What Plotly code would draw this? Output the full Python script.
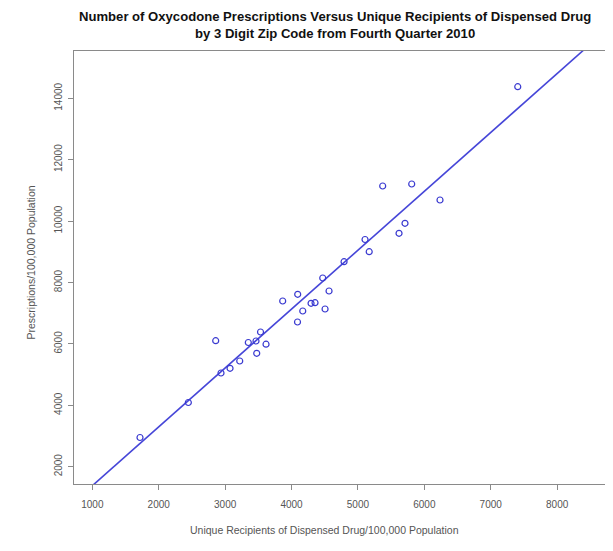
import plotly.graph_objects as go

# Unique recipients of dispensed drug per 100,000 population
recipients = [1718, 2446, 2858, 2938, 3074, 3220, 3349, 3465, 3533, 3476,
              3616, 3867, 4090, 4093, 4169, 4294, 4354, 4505, 4470, 4565,
              4791, 5107, 5170, 5373, 5810, 6236, 5709, 5619, 7407]
# Prescriptions per 100,000 population
prescriptions = [2951, 4091, 6104, 5052, 5205, 5443, 6046, 6094, 6388, 5694,
                 5990, 7397, 6713, 7616, 7072, 7322, 7342, 7137, 8147, 7723,
                 8678, 9401, 9003, 11143, 11208, 10687, 9928, 9603, 14378]

# fitted line
fit_intercept = -538
fit_slope = 1.918
line_x = [600, 9000]
line_y = [fit_intercept + fit_slope * v for v in line_x]

x_ticks = [1000, 2000, 3000, 4000, 5000, 6000, 7000, 8000]
y_ticks = [2000, 4000, 6000, 8000, 10000, 12000, 14000]

blue = "#3a3ad0"
fig = go.Figure()
fig.add_trace(go.Scatter(x=line_x, y=line_y, mode="lines",
                         line=dict(color="#4646d8", width=1.6), hoverinfo="skip"))
fig.add_trace(go.Scatter(x=recipients, y=prescriptions, mode="markers",
                         marker=dict(symbol="circle-open", size=6, color=blue,
                                     line=dict(width=1.2, color=blue))))

font_fam = "Liberation Sans, Arial"
axis_common = dict(showgrid=False, zeroline=False, showline=True, mirror=True,
                   linecolor="#8a8a8a", linewidth=1, ticks="outside", ticklen=5,
                   tickcolor="#8a8a8a", automargin=False,
                   tickfont=dict(family=font_fam, size=10, color="#555555"))

fig.update_layout(
    width=605, height=543,
    margin=dict(l=66, r=8, t=43, b=67),
    paper_bgcolor="white", plot_bgcolor="white",
    showlegend=False,
    annotations=[
        dict(text="<b>Number of Oxycodone Prescriptions Versus Unique Recipients of Dispensed Drug<br>by 3 Digit Zip Code from Fourth Quarter 2010</b>",
             xref="paper", yref="paper", x=0.4915, y=1, yshift=26,
             xanchor="center", yanchor="middle", showarrow=False,
             font=dict(family=font_fam, size=13.1, color="#111111")),
        dict(text="Unique Recipients of Dispensed Drug/100,000 Population",
             xref="paper", yref="paper", x=0.5, y=0, xshift=-15, yshift=-46,
             xanchor="center", yanchor="middle", showarrow=False,
             font=dict(family=font_fam, size=10.5, color="#555555")),
        dict(text="Prescriptions/100,000 Population",
             xref="paper", yref="paper", x=0, y=0.5, xshift=-44, yshift=5,
             xanchor="center", yanchor="middle", textangle=-90, showarrow=False,
             font=dict(family=font_fam, size=10.5, color="#555555")),
    ],
    xaxis=dict(range=[724, 8721], tickvals=x_ticks, ticklabelstandoff=6,
               ticktext=[str(v) for v in x_ticks], **axis_common),
    yaxis=dict(range=[1436, 15541], tickvals=y_ticks, tickangle=-90, ticklabelstandoff=2,
               ticktext=[str(v) for v in y_ticks], **axis_common),
)

fig.write_html("out.html")
